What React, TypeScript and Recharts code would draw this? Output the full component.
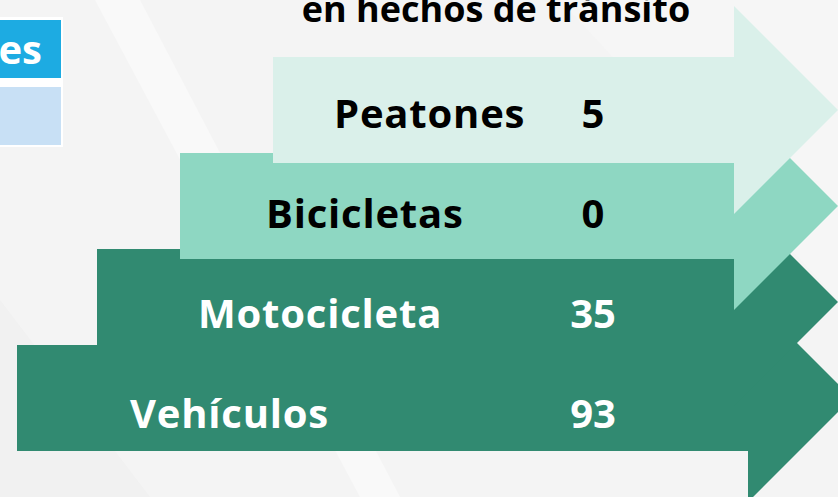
import { BarChart, Bar, XAxis, YAxis } from "recharts";

// counts of people involved, bottom step first
const categories = ["Vehículos", "Motocicleta", "Bicicletas", "Peatones"];
const involved = [93, 35, 0, 5];
const titleText = "en hechos de tránsito";
const sideLabel = "es";

const fills = ["#318A71", "#318A71", "#8ED7C2", "#DAF0EA"];
const textColors = ["#FFFFFF", "#FFFFFF", "#000000", "#000000"];
const stepLeft = [17, 97, 180, 273];
const FONT = "'Open Sans', 'DejaVu Sans', sans-serif";

const data = categories.map((name, i) => ({ name, value: involved[i] }));

const ArrowShape = (props: any) => {
  const { y, height, index, payload } = props;
  const cy = y + height / 2;
  const left = stepLeft[index];
  const right = index === 0 ? 748 : 734;
  const bodyHalf = 53;
  const headHalf = 104;
  const headLen = 104;
  const points = [
    [left, cy - bodyHalf],
    [right, cy - bodyHalf],
    [right, cy - headHalf],
    [right + headLen, cy],
    [right, cy + headHalf],
    [right, cy + bodyHalf],
    [left, cy + bodyHalf],
  ]
    .map((p) => p.join(","))
    .join(" ");
  const color = textColors[index];
  const ty = cy + 14 - index * 4;
  return (
    <g>
      <polygon points={points} fill={fills[index]} />
      <text
        x={130 + index * 68}
        y={ty}
        dominantBaseline="central"
        fontFamily={FONT}
        fontWeight={700}
        fontSize={40}
        letterSpacing={0.8}
        fill={color}
      >
        {payload.name}
      </text>
      <text
        x={593}
        y={ty}
        dominantBaseline="central"
        textAnchor="middle"
        fontFamily={FONT}
        fontWeight={700}
        fontSize={40}
        fill={color}
      >
        {payload.value}
      </text>
    </g>
  );
};

export default function App() {
  return (
    <div
      style={{
        position: "absolute",
        left: 0,
        top: 0,
        width: 838,
        height: 497,
        overflow: "hidden",
        background: "#F4F4F4",
      }}
    >
      <svg width={838} height={497} style={{ position: "absolute", left: 0, top: 0 }}>
        <polygon points="95,0 140,0 400,497 360,497" fill="#F9F9F9" />
        <polygon points="0,300 0,497 150,497" fill="#EFEFEF" opacity={0.7} />
        <polygon points="560,0 838,0 838,300" fill="#F6F6F6" />
        <rect x={0} y={17} width={63} height={130} fill="#FFFFFF" />
        <rect x={0} y={20} width={61} height={58} fill="#1DABE2" />
        <rect x={0} y={87} width={61} height={58} fill="#C8E0F5" />
        <text x={42} y={64} textAnchor="end" fontFamily={FONT} fontWeight={700} fontSize={40} fill="#FFFFFF">
          {sideLabel}
        </text>
        <text x={496} y={22} textAnchor="middle" fontFamily={FONT} fontWeight={700} fontSize={36} fill="#000000">
          {titleText}
        </text>
      </svg>
      <div style={{ position: "absolute", left: 0, top: 0 }}>
        <BarChart
          width={838}
          height={497}
          data={data}
          layout="vertical"
          margin={{ top: 62, right: 0, bottom: 51, left: 0 }}
          barCategoryGap="0%"
        >
          <XAxis type="number" domain={[0, 100]} hide />
          <YAxis type="category" dataKey="name" reversed hide width={0} />
          <Bar dataKey="value" minPointSize={2} shape={<ArrowShape />} isAnimationActive={false} />
        </BarChart>
      </div>
    </div>
  );
}
